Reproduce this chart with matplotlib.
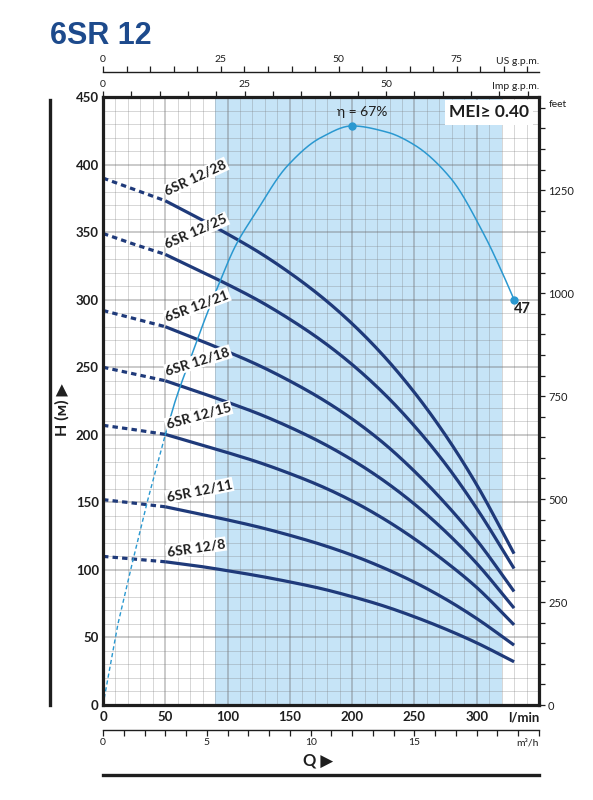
import matplotlib
matplotlib.use('Agg')
import matplotlib.pyplot as plt
from matplotlib import font_manager
from matplotlib.lines import Line2D
import numpy as np

# ---------------- fonts ----------------
_names = {f.name for f in font_manager.fontManager.ttflist}
NARROW = 'Lato' if 'Lato' in _names else 'DejaVu Sans'
WIDE = 'Liberation Sans' if 'Liberation Sans' in _names else 'DejaVu Sans'
FN = [NARROW, 'DejaVu Sans']
FW = [WIDE, 'DejaVu Sans']

# ---------------- data ----------------
title = '6SR 12'
flow_lpm = [0, 25, 50, 75, 100, 125, 150, 175, 200, 225, 250, 275, 300, 330]
models = ['6SR 12/28', '6SR 12/25', '6SR 12/21', '6SR 12/18',
          '6SR 12/15', '6SR 12/11', '6SR 12/8']
head_12_28 = [390, 381.6, 373.2, 361.2, 348.6, 335.2, 319.8, 302.4, 282.2, 258.7, 231.3, 199.6, 163.0, 112]
head_12_25 = [349, 341, 333.5, 322.5, 311.3, 299.3, 285.5, 270, 252, 231, 206.5, 178.3, 145.5, 101]
head_12_21 = [292, 286, 280, 270.9, 261.5, 251.4, 239.8, 226.8, 211.7, 194, 173, 149, 122, 84]
head_12_18 = [250, 245, 240, 232.2, 224.1, 215.5, 205.6, 194.4, 181.4, 166.3, 148.7, 128.3, 104.8, 71.7]
head_12_15 = [207, 203.8, 200.3, 193.5, 186.8, 179.6, 171.3, 162, 151, 138, 123, 106, 87, 59.3]
head_12_11 = [152, 149.4, 146.7, 141.9, 137, 131.7, 125.6, 118.8, 110.9, 101.6, 90.9, 78.4, 64, 44.3]
head_12_8 = [110, 108, 106, 103, 99.4, 95.5, 91.1, 86.2, 80.2, 73.4, 65.3, 56.2, 46, 32]
heads = [head_12_28, head_12_25, head_12_21, head_12_18,
         head_12_15, head_12_11, head_12_8]

# efficiency curve drawn on the head scale
eff_flow = [0, 12, 24, 36, 50, 58, 70, 82, 91, 107, 121, 148, 175, 200,
            228, 250, 279, 306, 320, 330]
eff_head = [0, 60, 107, 152, 200, 225, 256, 286, 307, 341, 362, 399, 420, 428.6,
            424, 414.5, 390, 348, 321, 300]
eff_peak_pct = 67
eff_end_pct = 47
mei_value = 0.40
preferred_range = [90, 320]

h_ticks = [0, 50, 100, 150, 200, 250, 300, 350, 400, 450]
q_ticks = [0, 50, 100, 150, 200, 250, 300]
feet_ticks = [0, 250, 500, 750, 1000, 1250]
imp_ticks = [0, 25, 50]
us_ticks = [0, 25, 50, 75]
m3h_ticks = [0, 5, 10, 15]


def smooth(x, y, n=200):
    """Shape-preserving cubic Hermite curve through the read points (drawing only)."""
    x = np.asarray(x, float)
    y = np.asarray(y, float)
    h = np.diff(x)
    d = np.diff(y) / h
    m = np.zeros_like(y)
    m[0], m[-1] = d[0], d[-1]
    for i in range(1, len(y) - 1):
        if d[i - 1] * d[i] <= 0:
            m[i] = 0.0
        else:
            w1 = 2 * h[i] + h[i - 1]
            w2 = h[i] + 2 * h[i - 1]
            m[i] = (w1 + w2) / (w1 / d[i - 1] + w2 / d[i])
    xs = np.linspace(x[0], x[-1], n)
    idx = np.clip(np.searchsorted(x, xs) - 1, 0, len(x) - 2)
    t = (xs - x[idx]) / h[idx]
    h00 = 2 * t**3 - 3 * t**2 + 1
    h10 = t**3 - 2 * t**2 + t
    h01 = -2 * t**3 + 3 * t**2
    h11 = t**3 - t**2
    ys = (h00 * y[idx] + h10 * h[idx] * m[idx] + h01 * y[idx + 1]
          + h11 * h[idx] * m[idx + 1])
    return xs, ys


# ---------------- style ----------------
NAVY = '#1f3a7a'
CYAN = '#2a98d0'
SHADE = '#c6e4f7'
INK = '#1e1e1e'
label_angles = [25, 24, 20.5, 17.5, 15.5, 11.5, 8.5]

W_PX, H_PX = 593, 800
fig = plt.figure(figsize=(W_PX / 100, H_PX / 100), dpi=100)
L, R, T, B = 103, 539, 97, 705
ax = fig.add_axes([L / W_PX, 1 - B / H_PX, (R - L) / W_PX, (B - T) / H_PX])
ax.set_xlim(0, 350)
ax.set_ylim(0, 450)

ax.axvspan(preferred_range[0], preferred_range[1], color=SHADE, lw=0, zorder=0)

ax.set_xticks(np.arange(0, 351, 50))
ax.set_xticks(np.arange(0, 351, 10), minor=True)
ax.set_yticks(h_ticks)
ax.set_yticks(np.arange(0, 451, 10), minor=True)
ax.set_axisbelow(True)
ax.grid(which='minor', color='#7a7a7a', alpha=0.3, lw=0.7)
ax.grid(which='major', color='#6a6a6a', alpha=0.45, lw=1.1)
ax.set_xticklabels([str(v) if v in q_ticks else '' for v in range(0, 351, 50)])
ax.set_yticklabels([str(v) for v in h_ticks])
ax.tick_params(which='both', length=0)
ax.tick_params(axis='x', pad=4, labelsize=9.5, colors=INK)
ax.tick_params(axis='y', pad=3, labelsize=9.5, colors=INK)
for lab in ax.get_xticklabels() + ax.get_yticklabels():
    lab.set_fontweight('bold')
    lab.set_family(FN)
for sp in ax.spines.values():
    sp.set_linewidth(2.3)
    sp.set_color(INK)
    sp.set_zorder(6)

# pump curves
q = np.array(flow_lpm, dtype=float)
for name, h, ang in zip(models, heads, label_angles):
    h = np.array(h, dtype=float)
    ax.plot(q[:3], h[:3], color=NAVY, lw=2.3, ls=(0, (1.7, 1.3)),
            dash_capstyle='butt', zorder=3)
    xs, ys = smooth(q[2:], h[2:])
    ax.plot(xs, ys, color=NAVY, lw=2.3, solid_capstyle='butt', zorder=3)
    ax.annotate(name, xy=(q[2] + 1, h[2]), xytext=(1.0, 2.6),
                textcoords='offset points', rotation=ang,
                rotation_mode='anchor', ha='left', va='bottom',
                fontsize=10, fontweight='bold', family=FN, color=INK,
                bbox=dict(boxstyle='square,pad=0.08', fc='white', ec='none'),
                zorder=5)

# efficiency curve
ef = np.array(eff_flow, dtype=float)
eh = np.array(eff_head, dtype=float)
ax.plot(ef[:5], eh[:5], color=CYAN, lw=1.0, ls=(0, (3, 2)), zorder=4)
xs, ys = smooth(ef[4:], eh[4:], 400)
ax.plot(xs, ys, color=CYAN, lw=1.1, zorder=4)
ipk = int(np.argmax(eh))
ax.plot([ef[ipk], ef[-1]], [eh[ipk], eh[-1]], 'o', color=CYAN, ms=5, zorder=5)
ax.annotate(f'η = {eff_peak_pct}%', xy=(ef[ipk], eh[ipk]), xytext=(7, 10),
            textcoords='offset points', ha='center', va='center',
            fontsize=10, family=FN, color=INK, zorder=6)
ax.annotate(f'{eff_end_pct}', xy=(ef[-1], eh[-1]), xytext=(6, -7),
            textcoords='offset points', ha='center', va='center',
            fontsize=10.5, fontweight='bold', family=FN, color=INK, zorder=6)

ax.text(0.885, 0.975, f'MEI≥ {mei_value:.2f}', transform=ax.transAxes,
        ha='center', va='center', fontsize=12.5, fontweight='bold',
        family=FN, color=INK, zorder=7,
        bbox=dict(boxstyle='square,pad=0.25', fc='white', ec='none'))

ax.annotate('l/min', xy=(1, 0), xycoords='axes fraction', xytext=(0, -4.5),
            textcoords='offset points', ha='right', va='top',
            fontsize=9.5, fontweight='bold', family=FN, color=INK)

# right axis in feet
axr = ax.twinx()
axr.set_ylim(0, 450 * 3.28084)
axr.set_yticks(feet_ticks)
axr.set_yticks(np.arange(0, 1451, 50), minor=True)
axr.set_yticklabels([str(v) for v in feet_ticks])
axr.tick_params(which='both', direction='out', length=4.5, width=0.9,
                colors=INK, pad=2, labelsize=8)
for lab in axr.get_yticklabels():
    lab.set_family(FN)
for sp in axr.spines.values():
    sp.set_visible(False)
axr.annotate('feet', xy=(1, 1452), xycoords=('axes fraction', 'data'),
             xytext=(7, 2), textcoords='offset points', ha='left', va='center',
             fontsize=7.5, family=FN, color=INK)

# Imp g.p.m. on the frame top
sec = ax.secondary_xaxis('top', functions=(lambda x: x / 4.54609,
                                            lambda x: x * 4.54609))
sec.set_xticks([0, 25, 50, 75])
sec.set_xticklabels([str(v) for v in imp_ticks] + [''])
sec.set_xticks(np.arange(0, 76, 5), minor=True)
sec.tick_params(which='both', direction='out', length=4, width=0.9,
                colors=INK, pad=1.5, labelsize=7.5)
for lab in sec.get_xticklabels():
    lab.set_family(FN)
sec.spines['top'].set_visible(False)
ax.annotate('Imp g.p.m.', xy=(1, 1), xycoords='axes fraction',
            xytext=(0, 4.5), textcoords='offset points', ha='right',
            va='bottom', fontsize=7.5, family=FN, color=INK)

# US g.p.m. scale above
axu = fig.add_axes([L / W_PX, 1 - 72 / H_PX, (R - L) / W_PX, 1e-4])
axu.set_xlim(0, 350 / 3.78541)
axu.patch.set_visible(False)
for s in ['left', 'right', 'bottom']:
    axu.spines[s].set_visible(False)
axu.spines['top'].set_linewidth(1.0)
axu.spines['top'].set_color(INK)
axu.set_yticks([])
axu.xaxis.set_ticks_position('top')
axu.set_xticks(us_ticks + [90])
axu.set_xticklabels([str(v) for v in us_ticks] + [''])
axu.set_xticks(np.arange(0, 91, 5), minor=True)
axu.tick_params(which='both', direction='out', length=4, width=0.9,
                colors=INK, pad=1.5, labelsize=7.5)
for lab in axu.get_xticklabels():
    lab.set_family(FN)
axu.annotate('US g.p.m.', xy=(1, 1), xycoords='axes fraction',
             xytext=(0, 4.5), textcoords='offset points', ha='right',
             va='bottom', fontsize=7.5, family=FN, color=INK)

# m3/h scale below
axm = fig.add_axes([L / W_PX, 1 - 730 / H_PX, (R - L) / W_PX, 1e-4])
axm.set_xlim(0, 350 * 0.06)
axm.patch.set_visible(False)
for s in ['left', 'right', 'top']:
    axm.spines[s].set_visible(False)
axm.spines['bottom'].set_linewidth(1.0)
axm.spines['bottom'].set_color(INK)
axm.set_yticks([])
axm.set_xticks(m3h_ticks + [21])
axm.set_xticklabels([str(v) for v in m3h_ticks] + [''])
axm.set_xticks(np.arange(0, 22, 1), minor=True)
axm.tick_params(which='both', direction='out', length=4, width=0.9,
                colors=INK, pad=2, labelsize=7.5)
for lab in axm.get_xticklabels():
    lab.set_family(FN)
axm.annotate('m³/h', xy=(1, 0), xycoords='axes fraction',
             xytext=(0, -6), textcoords='offset points', ha='right',
             va='top', fontsize=7.5, family=FN, color=INK)

# axis titles and decorative rules
fig.text(318 / W_PX, 1 - 761 / H_PX, 'Q ▶', ha='center', va='center',
         fontsize=12, fontweight='bold', family=FN, color=INK)
fig.text(62 / W_PX, 1 - 410 / H_PX, 'H (м) ▶', rotation=90, ha='center',
         va='center', fontsize=11.5, fontweight='bold', family=FN, color=INK)
fig.add_artist(Line2D([50 / W_PX, 50 / W_PX], [1 - 100 / H_PX, 1 - 705 / H_PX],
                      transform=fig.transFigure, lw=2.4, color=INK))
fig.add_artist(Line2D([L / W_PX, R / W_PX], [1 - 775 / H_PX, 1 - 775 / H_PX],
                      transform=fig.transFigure, lw=2.4, color=INK))

fig.text(50 / W_PX, 1 - 44 / H_PX, title, ha='left', va='baseline',
         fontsize=22, fontweight='bold', family=FW, color='#1d4a8c')

fig.savefig('out.png', dpi=100)
